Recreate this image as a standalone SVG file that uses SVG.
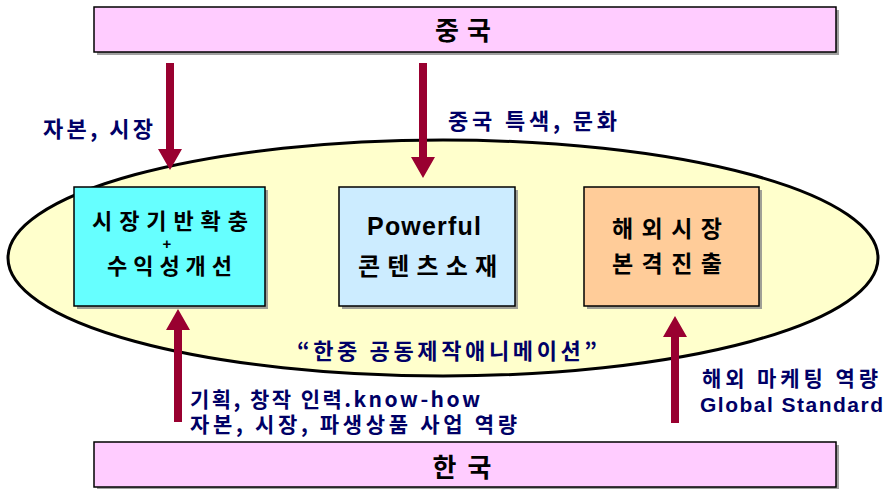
<svg xmlns="http://www.w3.org/2000/svg" width="889" height="489" viewBox="0 0 889 489">
<defs>
<style>
.box{stroke:#000;stroke-width:1.5}
.shadow{fill:#888;opacity:0.8}
.ko{font-family:"Noto Sans CJK KR","Liberation Sans",sans-serif;font-weight:bold}
.en{font-family:"Liberation Sans",Arial,sans-serif;font-weight:bold}
.navy{fill:#000066}
.blk{fill:#000}
.arrow{fill:#990030}
</style>
</defs>
<rect width="889" height="489" fill="#fff"/>
<g id="china">
<rect class="shadow" x="97" y="10" width="742" height="45"/>
<rect class="box" x="94" y="7" width="742" height="45" fill="#FFCCFF"/>
<text class="ko blk" x="463" y="40" font-size="26" text-anchor="middle" textLength="56" lengthAdjust="spacing">중국</text>
</g>
<g id="coproduction">
<ellipse cx="443" cy="258" rx="435" ry="118" fill="#FFFFCC" stroke="#000" stroke-width="3"/>
<text class="ko navy" x="297" y="359" font-size="22" textLength="300" lengthAdjust="spacing">“한중 공동제작애니메이션”</text>
</g>
<g id="korea">
<rect class="shadow" x="97" y="445" width="742" height="45"/>
<rect class="box" x="94" y="442" width="742" height="45" fill="#FFCCFF"/>
<text class="ko blk" x="462" y="477" font-size="26" text-anchor="middle" textLength="59" lengthAdjust="spacing">한국</text>
</g>
<g id="market">
<rect class="shadow" x="77" y="190" width="191" height="119"/>
<rect class="box" x="74" y="187" width="191" height="119" fill="#66FFFF"/>
<text class="ko blk" x="92" y="229" font-size="22" textLength="156" lengthAdjust="spacing">시장기반확충</text>
<text class="en blk" x="167" y="249" font-size="15" font-weight="normal" text-anchor="middle">+</text>
<text class="ko blk" x="107" y="274" font-size="22" textLength="125" lengthAdjust="spacing">수익성개선</text>
</g>
<g id="content">
<rect class="shadow" x="342" y="190" width="176" height="119"/>
<rect class="box" x="339" y="187" width="176" height="119" fill="#CCECFF"/>
<text class="en blk" x="367" y="235" font-size="25" textLength="114" lengthAdjust="spacing">Powerful</text>
<text class="ko blk" x="358" y="275" font-size="24" textLength="139" lengthAdjust="spacing">콘텐츠소재</text>
</g>
<g id="overseas">
<rect class="shadow" x="587" y="190" width="175" height="119"/>
<rect class="box" x="584" y="187" width="175" height="119" fill="#FFCC99"/>
<text class="ko blk" x="612" y="237" font-size="23" textLength="110" lengthAdjust="spacing">해외시장</text>
<text class="ko blk" x="612" y="272" font-size="23" textLength="110" lengthAdjust="spacing">본격진출</text>
</g>
<g id="connectors">
<polygon class="arrow" points="166,63 174,63 174,149 182,149 170,170 158,149 166,149"/>
<polygon class="arrow" points="419,63 427,63 427,157 435,157 423,178 411,157 419,157"/>
<polygon class="arrow" points="174,422 182,422 182,330 190,330 178,309 166,330 174,330"/>
<polygon class="arrow" points="671,423 679,423 679,337 687,337 675,316 663,337 671,337"/>
</g>
<g id="labels">
<text class="ko navy" x="43" y="137" font-size="22" textLength="110" lengthAdjust="spacing">자본, 시장</text>
<text class="ko navy" x="448" y="129" font-size="22" textLength="169" lengthAdjust="spacing">중국 특색, 문화</text>
<text class="ko navy" x="190" y="407" font-size="21" textLength="290" lengthAdjust="spacing">기획, 창작 인력.know-how</text>
<text class="ko navy" x="190" y="432" font-size="21" textLength="327" lengthAdjust="spacing">자본, 시장, 파생상품 사업 역량</text>
<text class="ko navy" x="702" y="386" font-size="21" textLength="176" lengthAdjust="spacing">해외 마케팅 역량</text>
<text class="en navy" x="700" y="412" font-size="21" textLength="183" lengthAdjust="spacing">Global Standard</text>
</g>
</svg>
